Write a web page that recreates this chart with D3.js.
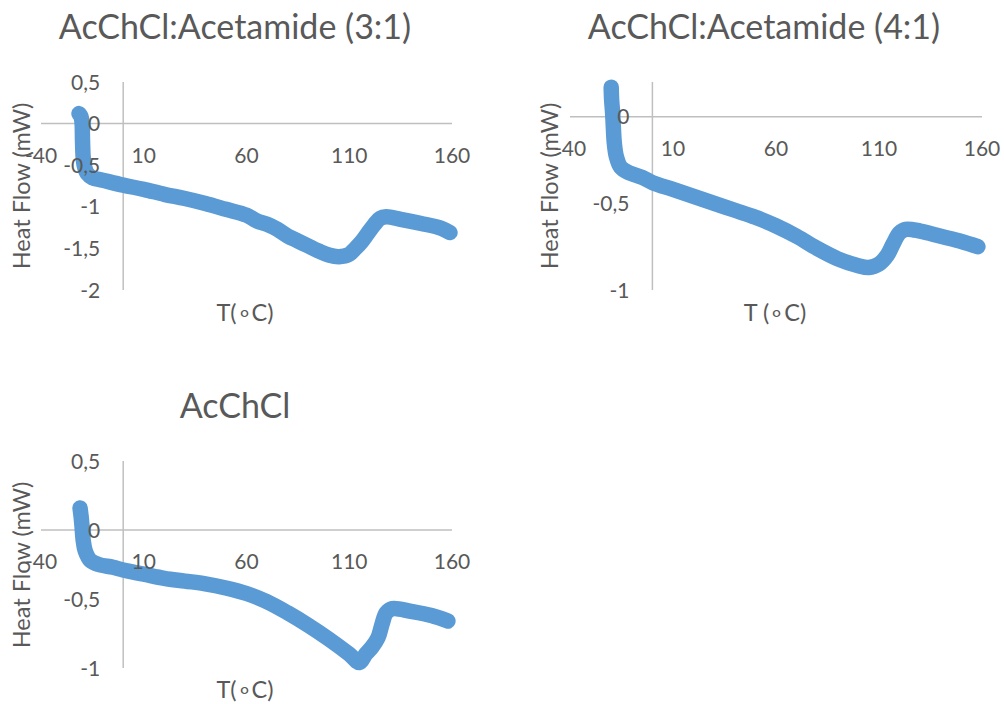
<!DOCTYPE html>
<html>
<head>
<meta charset="utf-8">
<script src="https://cdn.jsdelivr.net/npm/d3@7"></script>
<style>
  html, body { margin: 0; padding: 0; background: #ffffff; }
  svg { display: block; }
  text { font-family: Lato, "Open Sans", sans-serif; fill: #595959; }
</style>
</head>
<body>
<svg id="chart" width="1004" height="704"></svg>
<script>
// ---------- DATA ----------
const xTickValues = [-40, 10, 60, 110, 160];

const titles = ["AcChCl:Acetamide (3:1)", "AcChCl:Acetamide (4:1)", "AcChCl"];
const xAxisTitles = ["T(\u2218C)", "T (\u2218C)", "T(\u2218C)"];
const yAxisTitle = "Heat Flow (mW)";

const yTicks31 = [0.5, 0, -0.5, -1, -1.5, -2];
const yTicks41 = [0, -0.5, -1];
const yTicksAc = [0.5, 0, -0.5, -1];

const yDomain31 = [-2, 0.5];
const yDomain41 = [-1, 0.2];
const yDomainAc = [-1, 0.5];

const temp31 = [-21.5, -20.5, -20, -19.8, -19.5, -19, -17.5, -15, -10, 0, 10, 20, 30, 40, 50, 60, 65, 70, 75, 80, 85, 90, 95, 100, 105, 110, 113, 116, 119, 122, 125, 128, 135, 145, 155, 159];
const heat31 = [0.12, 0.08, 0.0, -0.2, -0.4, -0.5, -0.6, -0.65, -0.68, -0.74, -0.79, -0.85, -0.9, -0.96, -1.03, -1.1, -1.17, -1.21, -1.27, -1.35, -1.41, -1.47, -1.53, -1.58, -1.6, -1.57, -1.5, -1.42, -1.32, -1.22, -1.14, -1.12, -1.15, -1.2, -1.26, -1.31];

const temp41 = [-20, -19.8, -19.3, -19, -18.5, -17.5, -15.5, -12, -5, 0, 10, 20, 30, 40, 50, 60, 70, 80, 90, 100, 105, 110, 114, 117, 120, 123, 130, 140, 150, 158];
const heat41 = [0.17, 0.1, 0.02, -0.05, -0.15, -0.23, -0.29, -0.32, -0.35, -0.38, -0.42, -0.46, -0.5, -0.54, -0.58, -0.63, -0.69, -0.76, -0.82, -0.86, -0.87, -0.85, -0.8, -0.73, -0.67, -0.65, -0.66, -0.69, -0.72, -0.75];

const tempAc = [-21, -20.5, -20, -19.5, -18.5, -16, -12, -5, 0, 10, 20, 30, 40, 50, 60, 70, 80, 90, 100, 110, 115, 118, 121, 124, 126, 128, 131, 140, 150, 158];
const heatAc = [0.16, 0.1, 0.02, -0.07, -0.15, -0.22, -0.25, -0.27, -0.29, -0.32, -0.35, -0.37, -0.39, -0.42, -0.46, -0.52, -0.6, -0.69, -0.79, -0.9, -0.96, -0.9, -0.85, -0.78, -0.68, -0.6, -0.57, -0.59, -0.62, -0.66];

// ---------- LAYOUT ----------
const svg = d3.select("#chart");
const fmt = v => String(v).replace(".", ",");

const panels = [
  { title: titles[0], xt: xAxisTitles[0], xs: temp31, ys: heat31, yd: yDomain31, yt: yTicks31,
    x0: 41, x1: 452, y0: 290, y1: 82, titleX: 235, titleY: 39, yTitleX: 22, yTitleY: 186, xTitleX: 245, xTitleY: 313 },
  { title: titles[1], xt: xAxisTitles[1], xs: temp41, ys: heat41, yd: yDomain41, yt: yTicks41,
    x0: 570, x1: 982, y0: 290, y1: 82, titleX: 764, titleY: 39, yTitleX: 550, yTitleY: 186, xTitleX: 775, xTitleY: 313 },
  { title: titles[2], xt: xAxisTitles[2], xs: tempAc, ys: heatAc, yd: yDomainAc, yt: yTicksAc,
    x0: 41, x1: 452, y0: 668, y1: 461, titleX: 235, titleY: 418, yTitleX: 22, yTitleY: 565, xTitleX: 245, xTitleY: 690 }
];

panels.forEach(p => {
  const g = svg.append("g");
  const x = d3.scaleLinear().domain([-40, 160]).range([p.x0, p.x1]);
  const y = d3.scaleLinear().domain(p.yd).range([p.y0, p.y1]);
  const ax = x(0), ay = y(0);

  // axis lines
  g.append("line").attr("x1", p.x0).attr("x2", p.x1).attr("y1", ay).attr("y2", ay)
    .attr("stroke", "#bfbfbf").attr("stroke-width", 1.5);
  g.append("line").attr("x1", ax).attr("x2", ax).attr("y1", p.y1).attr("y2", p.y0)
    .attr("stroke", "#bfbfbf").attr("stroke-width", 1.5);

  // series
  const pts = p.xs.map((v, i) => [v, p.ys[i]]);
  const line = d3.line().x(d => x(d[0])).y(d => y(d[1])).curve(d3.curveCatmullRom.alpha(0.5));
  g.append("path").attr("d", line(pts)).attr("fill", "none")
    .attr("stroke", "#5b9bd5").attr("stroke-width", 15.5)
    .attr("stroke-linecap", "round").attr("stroke-linejoin", "round");

  // x tick labels
  g.selectAll(".xt").data(xTickValues).enter().append("text")
    .attr("x", d => x(d)).attr("y", ay + 39)
    .attr("text-anchor", "middle").attr("font-size", 21)
    .text(d => d);

  // y tick labels
  g.selectAll(".yt").data(p.yt).enter().append("text")
    .attr("x", ax - 23).attr("y", d => y(d)).attr("dy", "0.36em")
    .attr("text-anchor", "end").attr("font-size", 21)
    .text(d => fmt(d));

  // titles
  g.append("text").attr("x", p.titleX).attr("y", p.titleY)
    .attr("text-anchor", "middle").attr("font-size", 34).text(p.title);
  g.append("text").attr("x", p.xTitleX).attr("y", p.xTitleY)
    .attr("text-anchor", "middle").attr("dy", "0.36em").attr("font-size", 23.5).text(p.xt);
  g.append("text")
    .attr("transform", `translate(${p.yTitleX},${p.yTitleY}) rotate(-90)`)
    .attr("text-anchor", "middle").attr("dy", "0.36em").attr("font-size", 23.5).text(yAxisTitle);
});
</script>
</body>
</html>
